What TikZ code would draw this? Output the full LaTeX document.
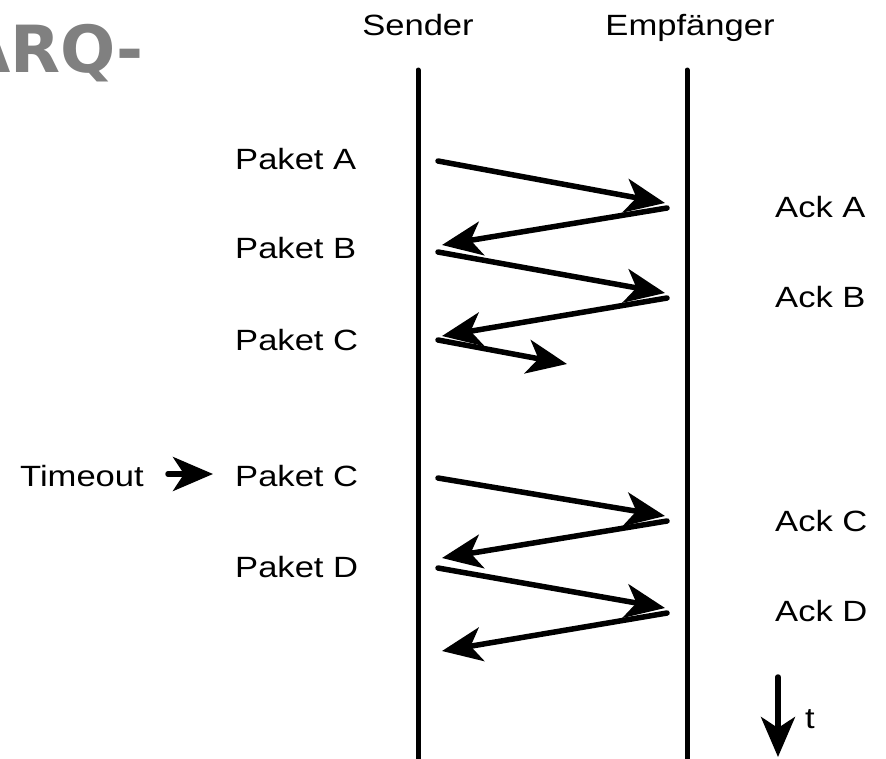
\documentclass[tikz,border=0pt]{standalone}
\usepackage{fontspec}
\setmainfont{Liberation Sans}[FakeStretch=1.18]
\newfontfamily\arqfont{DejaVu Sans}
\usetikzlibrary{arrows.meta}
\definecolor{arqgray}{RGB}{128,128,128}
\begin{document}
\begin{tikzpicture}[x=1pt,y=-1pt,
  lbl/.style={font=\fontsize{29.3}{35}\selectfont, inner sep=0pt, anchor=base west},
  msg/.style={line width=5.5pt, line cap=round, -{Stealth[length=40pt,width=34pt,inset=11pt]}},
  life/.style={line width=5pt, line cap=round}]
\useasboundingbox (0,0) rectangle (886,758);

% title fragment
\node[font=\arqfont\bfseries\fontsize{65}{70}\selectfont, text=arqgray, inner sep=0pt, anchor=base east] (arq) at (144,72) {ARQ-};

% headers
\node[lbl, anchor=base] (snd) at (418,35) {Sender};
\node[lbl, anchor=base] (rcv) at (690,35) {Empfänger};

% lifelines
\coordinate (s0) at (418,70);
\coordinate (s1) at (418,770);
\coordinate (r0) at (687,70);
\coordinate (r1) at (687,770);
\draw[life] (s0) -- (s1);
\draw[life] (r0) -- (r1);

% labels
\node[lbl] (pa) at (235,169) {Paket A};
\node[lbl] (pb) at (235,258) {Paket B};
\node[lbl] (pc) at (235,350) {Paket C};
\node[lbl] (pc2) at (235,486) {Paket C};
\node[lbl] (pd) at (235,577) {Paket D};
\node[lbl] (tout) at (20,486) {Timeout};
\node[lbl] (aa) at (775,217) {Ack A};
\node[lbl] (ab) at (775,307) {Ack B};
\node[lbl] (ac) at (775,531) {Ack C};
\node[lbl] (ad) at (775,621) {Ack D};
\node[lbl] (tt) at (805,728) {t};

% message endpoints
\coordinate (pa0) at (438,161); \coordinate (pa1) at (665,203);
\coordinate (aa0) at (667,208); \coordinate (aa1) at (442,245);
\coordinate (pb0) at (438,252); \coordinate (pb1) at (665,293);
\coordinate (ab0) at (667,298); \coordinate (ab1) at (442,336);
\coordinate (pc0) at (438,340); \coordinate (pc1) at (567,364);
\coordinate (pcb0) at (438,478); \coordinate (pcb1) at (665,516);
\coordinate (ac0) at (667,521); \coordinate (ac1) at (442,558);
\coordinate (pd0) at (438,568); \coordinate (pd1) at (665,608);
\coordinate (ad0) at (667,613); \coordinate (ad1) at (442,651);
\coordinate (to0) at (168,474); \coordinate (to1) at (213,474);
\coordinate (t0) at (778,677); \coordinate (t1) at (778,757);

\draw[msg] (pa0) -- (pa1);
\draw[msg] (aa0) -- (aa1);
\draw[msg] (pb0) -- (pb1);
\draw[msg] (ab0) -- (ab1);
\draw[msg] (pc0) -- (pc1);
\draw[msg] (pcb0) -- (pcb1);
\draw[msg] (ac0) -- (ac1);
\draw[msg] (pd0) -- (pd1);
\draw[msg] (ad0) -- (ad1);
\draw[msg] (to0) -- (to1);
\draw[msg] (t0) -- (t1);
\end{tikzpicture}
\end{document}
